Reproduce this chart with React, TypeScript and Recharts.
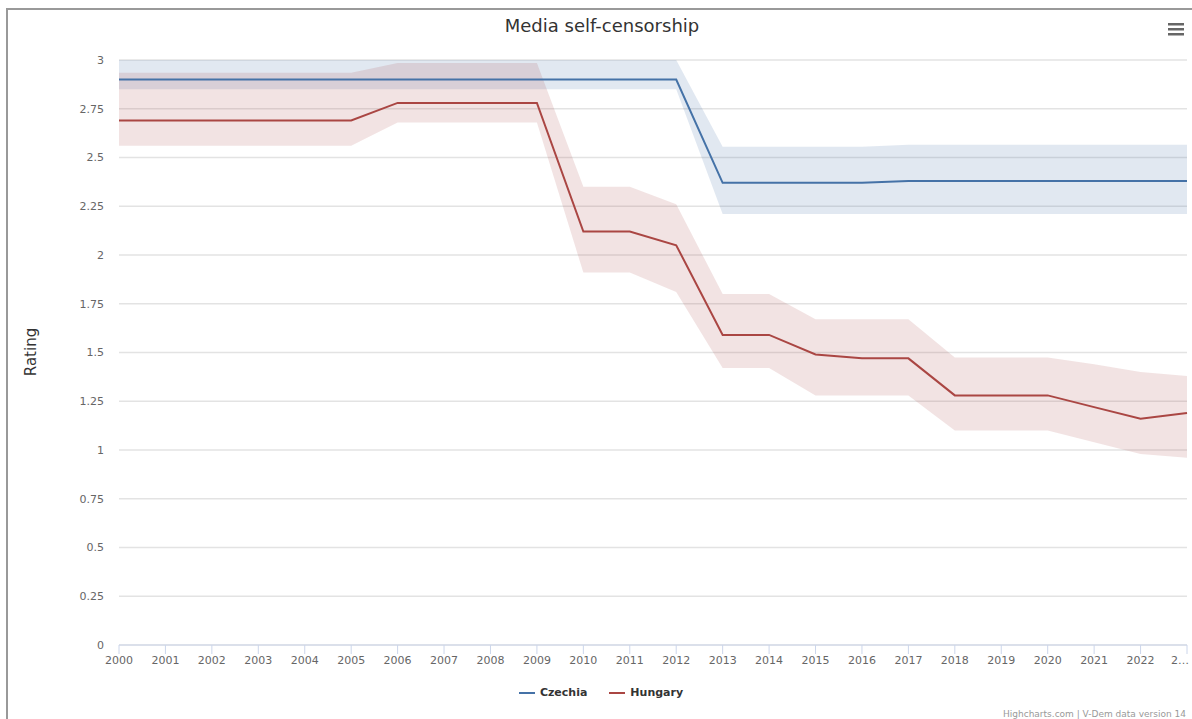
import React from "react";
import { ComposedChart, Area, Line, XAxis, YAxis, CartesianGrid } from "recharts";

const years = [2000, 2001, 2002, 2003, 2004, 2005, 2006, 2007, 2008, 2009, 2010, 2011, 2012, 2013, 2014, 2015, 2016, 2017, 2018, 2019, 2020, 2021, 2022, 2023];

const czechia = [2.9, 2.9, 2.9, 2.9, 2.9, 2.9, 2.9, 2.9, 2.9, 2.9, 2.9, 2.9, 2.9, 2.37, 2.37, 2.37, 2.37, 2.38, 2.38, 2.38, 2.38, 2.38, 2.38, 2.38];
const czechiaLow = [2.85, 2.85, 2.85, 2.85, 2.85, 2.85, 2.85, 2.85, 2.85, 2.85, 2.85, 2.85, 2.85, 2.21, 2.21, 2.21, 2.21, 2.21, 2.21, 2.21, 2.21, 2.21, 2.21, 2.21];
const czechiaHigh = [3.0, 3.0, 3.0, 3.0, 3.0, 3.0, 3.0, 3.0, 3.0, 3.0, 3.0, 3.0, 3.0, 2.555, 2.555, 2.555, 2.555, 2.565, 2.565, 2.565, 2.565, 2.565, 2.565, 2.565];

const hungary = [2.69, 2.69, 2.69, 2.69, 2.69, 2.69, 2.78, 2.78, 2.78, 2.78, 2.12, 2.12, 2.05, 1.59, 1.59, 1.49, 1.47, 1.47, 1.28, 1.28, 1.28, 1.22, 1.16, 1.19];
const hungaryLow = [2.56, 2.56, 2.56, 2.56, 2.56, 2.56, 2.68, 2.68, 2.68, 2.68, 1.91, 1.91, 1.81, 1.42, 1.42, 1.28, 1.28, 1.28, 1.1, 1.1, 1.1, 1.04, 0.98, 0.96];
const hungaryHigh = [2.935, 2.935, 2.935, 2.935, 2.935, 2.935, 2.985, 2.985, 2.985, 2.985, 2.35, 2.35, 2.26, 1.8, 1.8, 1.67, 1.67, 1.67, 1.475, 1.475, 1.475, 1.44, 1.4, 1.38];

const yTicks = [0, 0.25, 0.5, 0.75, 1, 1.25, 1.5, 1.75, 2, 2.25, 2.5, 2.75, 3];

const CZ_COLOR = "#4572A7";
const HU_COLOR = "#AA4643";
const FONT = "'DejaVu Sans', 'Lucida Grande', sans-serif";

const data = years.map((y, i) => ({
  year: y,
  czechia: czechia[i],
  czRange: [czechiaLow[i], czechiaHigh[i]],
  hungary: hungary[i],
  huRange: [hungaryLow[i], hungaryHigh[i]],
}));

const XTick = (props: any) => {
  const { x, y, payload } = props;
  const isLast = payload.value === years[years.length - 1];
  return (
    <text
      x={isLast ? x - 16 : x}
      y={y + 1}
      dy="0.71em"
      textAnchor={isLast ? "start" : "middle"}
      fill="#666"
      fontSize={11}
      fontFamily={FONT}
    >
      {isLast ? "2…" : String(payload.value)}
    </text>
  );
};

export default function App() {
  return (
    <div style={{ position: "absolute", left: 0, top: 0, width: 1192, height: 719, overflow: "hidden", background: "#fff", fontFamily: FONT }}>
      <div style={{ position: "absolute", left: 6, top: 8, width: 1300, height: 800, borderTop: "2px solid #999", borderLeft: "2px solid #999" }} />
      <ComposedChart
        width={1192}
        height={719}
        data={data}
        margin={{ top: 60, right: 5, bottom: 44, left: 59 }}
        style={{ position: "absolute", left: 0, top: 0 }}
      >
        <CartesianGrid vertical={false} stroke="#e3e3e3" strokeWidth={1.3} />
        <XAxis
          dataKey="year"
          type="number"
          domain={[2000, 2023]}
          ticks={years}
          interval={0}
          allowDecimals={false}
          height={30}
          stroke="#ccd6eb"
          tickSize={9}
          tickMargin={1}
          tickLine={{ stroke: "#ccd6eb" }}
          axisLine={{ stroke: "#ccd6eb" }}
          tick={<XTick />}
        />
        <YAxis
          type="number"
          domain={[0, 3]}
          ticks={yTicks}
          interval={0}
          width={60}
          axisLine={false}
          tickLine={false}
          tickSize={6}
          tickMargin={9}
          tick={{ fill: "#666", fontSize: 11, fontFamily: FONT }}
        />
        <Area
          dataKey="czRange"
          type="linear"
          stroke="none"
          fill={CZ_COLOR}
          fillOpacity={0.16}
          isAnimationActive={false}
          activeDot={false}
        />
        <Area
          dataKey="huRange"
          type="linear"
          stroke="none"
          fill={HU_COLOR}
          fillOpacity={0.15}
          isAnimationActive={false}
          activeDot={false}
        />
        <Line dataKey="czechia" type="linear" stroke={CZ_COLOR} strokeWidth={2} dot={false} isAnimationActive={false} />
        <Line dataKey="hungary" type="linear" stroke={HU_COLOR} strokeWidth={2} dot={false} isAnimationActive={false} />
      </ComposedChart>

      <div style={{ position: "absolute", left: 0, width: 1204, top: 15, textAlign: "center", fontSize: 18, color: "#333", whiteSpace: "nowrap" }}>
        Media self-censorship
      </div>

      <svg style={{ position: "absolute", left: 1164, top: 20 }} width={24} height={20}>
        <rect x={4} y={3} width={16} height={2.5} fill="#666" />
        <rect x={4} y={8} width={16} height={2.5} fill="#666" />
        <rect x={4} y={13} width={16} height={2.5} fill="#666" />
      </svg>

      <div style={{ position: "absolute", left: 31, top: 352, transform: "translate(-50%, -50%) rotate(-90deg)", fontSize: 15, color: "#333", whiteSpace: "nowrap" }}>
        Rating
      </div>

      <div style={{ position: "absolute", left: 0, width: 1202, top: 686, display: "flex", justifyContent: "center", alignItems: "center", fontSize: 11, fontWeight: "bold", color: "#333" }}>
        <span style={{ display: "inline-block", width: 16, height: 2, background: CZ_COLOR, marginRight: 5 }} />
        <span>Czechia</span>
        <span style={{ display: "inline-block", width: 16, height: 2, background: HU_COLOR, marginLeft: 22, marginRight: 5 }} />
        <span>Hungary</span>
      </div>

      <div style={{ position: "absolute", right: 6, top: 709, fontSize: 9, color: "#999", whiteSpace: "nowrap" }}>
        Highcharts.com | V-Dem data version 14
      </div>
    </div>
  );
}
